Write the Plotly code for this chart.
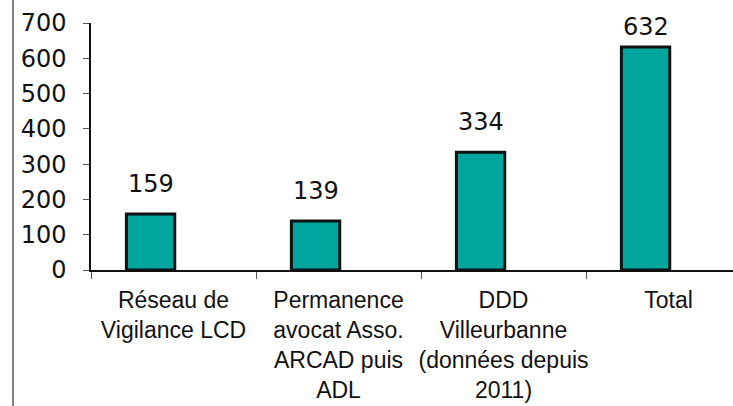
import plotly.graph_objects as go

categories = [
    "Réseau de<br>Vigilance LCD",
    "Permanence<br>avocat Asso.<br>ARCAD puis<br>ADL",
    "DDD<br>Villeurbanne<br>(données depuis<br>2011)",
    "Total",
]
values = [159, 139, 334, 632]
y_ticks = [0, 100, 200, 300, 400, 500, 600, 700]

BAR_COLOR = "#00A59D"
BAR_WIDTH = 0.293
BAR_SHIFT = -0.139
label_shift = [14, 14, 14, 4]

fig = go.Figure()
fig.add_trace(go.Bar(
    x=categories, y=values,
    width=BAR_WIDTH, offset=BAR_SHIFT - BAR_WIDTH / 2,
    marker=dict(color=BAR_COLOR, line=dict(color="#111111", width=3)),
    hoverinfo="skip",
))

for i, v in enumerate(values):
    fig.add_annotation(
        x=i + BAR_SHIFT, y=v, xref="x", yref="y",
        text=str(v), showarrow=False, yanchor="bottom", yshift=label_shift[i],
        font=dict(family="DejaVu Sans", size=24, color="#111111"),
    )

fig.add_shape(type="line", xref="paper", yref="paper",
              x0=-78/642, x1=-78/642, y0=-136/247, y1=1 + 23/247,
              line=dict(color="#808080", width=2))

fig.update_layout(
    width=733, height=406,
    margin=dict(l=91, r=0, t=23, b=136, autoexpand=False),
    paper_bgcolor="white", plot_bgcolor="white",
    showlegend=False,
    xaxis=dict(
        type="category", range=[-0.5, -0.5 + 642/165], automargin=False,
        showline=True, linecolor="#111111", linewidth=1.5,
        ticks="outside", tickson="boundaries", ticklen=7, tickcolor="#555555",
        showgrid=False, zeroline=False,
        tickfont=dict(family="Liberation Sans Narrow, Arial Narrow, Liberation Sans", size=23, color="#111111"),
        tickangle=0, ticklabelstandoff=9,
    ),
    yaxis=dict(
        range=[0, 700], tickvals=y_ticks, automargin=False,
        showline=True, linecolor="#111111", linewidth=1.5,
        ticks="outside", ticklen=6, tickcolor="#555555",
        showgrid=False, zeroline=False,
        tickfont=dict(family="DejaVu Sans", size=24, color="#111111"),
        ticklabelstandoff=12,
    ),
)

fig.write_html("out.html", config={"displayModeBar": False},
               post_script="document.body.style.margin='0';document.body.style.overflow='hidden';")
